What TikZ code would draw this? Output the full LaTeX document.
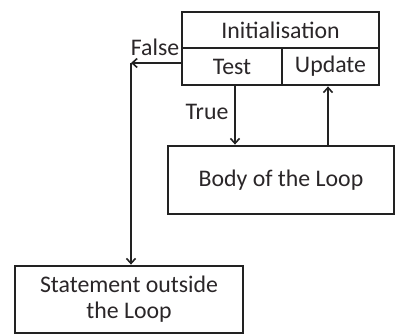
\documentclass[tikz,border=0pt]{standalone}
\usepackage{fontspec}
\setmainfont{Carlito}
\usetikzlibrary{arrows.meta}
\definecolor{ink}{HTML}{222222}
\definecolor{txt}{HTML}{2A2628}
\begin{document}
\begin{tikzpicture}[x=1pt,y=1pt,
  box/.style={draw=ink,line width=2.8pt,rectangle,inner sep=0pt,text=txt,font=\fontsize{23.8}{28}\selectfont,align=center},
  lbl/.style={text=txt,font=\fontsize{23.8}{28}\selectfont,inner sep=0pt},
  arr/.style={draw=ink,line width=2pt,-{Straight Barb[length=5pt,width=9pt,line width=1.6pt]}},
  ln/.style={draw=ink,line width=2pt}]
\useasboundingbox (0,0) rectangle (397,335);
\fill[white] (0,0) rectangle (397,335);
\node[box,minimum width=197pt,minimum height=36pt] (init) at (280.5,305) {Initialisation};
\node[box,minimum width=100pt,minimum height=37pt] (test) at (232,268.5) {Test};
\node[box,minimum width=97pt,minimum height=37pt] (update) at (330.5,268.5) {Update};
\node[box,minimum width=226pt,minimum height=68pt] (body) at (281,155) {Body of the Loop};
\node[box,minimum width=228pt,minimum height=67pt] (stmt) at (129,35.5) {Statement outside\\[-2pt]the Loop};
\coordinate (c) at (131,272);
\node[lbl] (false) at (155,288) {False};
\node[lbl] (true) at (207,223) {True};
\draw[arr] (c -| test.west) -- (c);
\draw[arr] (c) -- (c |- stmt.north);
\draw[arr] ([xshift=3pt]test.south) -- ([xshift=3pt]test.south |- body.north);
\draw[arr] ([xshift=-2.5pt]update.south |- body.north) -- ([xshift=-2.5pt]update.south);
\end{tikzpicture}
\end{document}
